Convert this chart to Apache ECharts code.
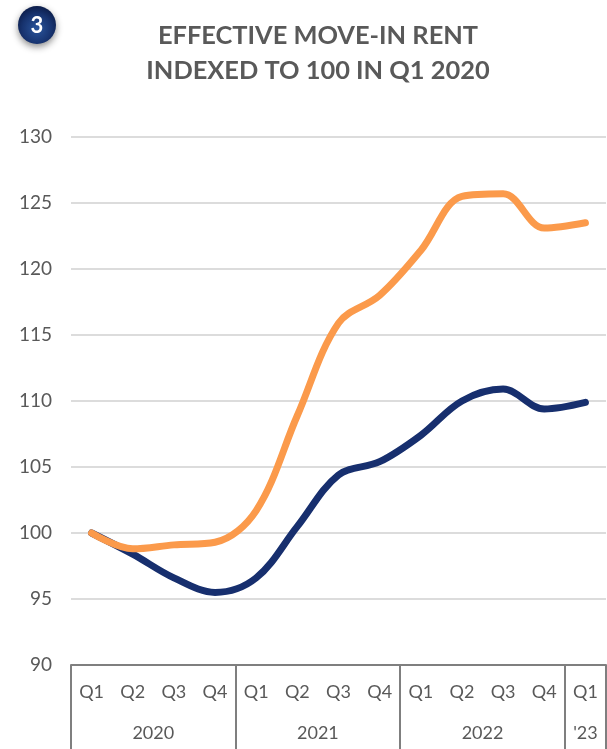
<!DOCTYPE html>
<html><head><meta charset="utf-8">
<style>html,body{margin:0;padding:0;background:#fff}#c{width:607px;height:749px}</style>
<script src="https://cdn.jsdelivr.net/npm/echarts@6/dist/echarts.min.js"></script>
</head><body><div id="c"></div>
<script>
const quarters=['Q1','Q2','Q3','Q4','Q1','Q2','Q3','Q4','Q1','Q2','Q3','Q4','Q1'];
const years=["2020","2021","2022","'23"];
const yearCenters=[2,6,10,12.5];
const yearEdges=[0,4,8,12,13];
const navy=[100,98.4,96.6,95.5,96.6,100.5,104.4,105.4,107.4,110,110.9,109.4,109.9];
const orange=[100,98.8,99.1,99.3,101.7,108.9,115.9,118,121.4,125.5,125.7,123.1,123.5];
const grey='#595959', axisGrey='#7f7f7f', font='Lato';
const chart=echarts.init(document.getElementById('c'),null,{renderer:'canvas'});
chart.setOption({
 animation:false,backgroundColor:'#fff',
 title:{text:'EFFECTIVE MOVE-IN RENT\nINDEXED TO 100 IN Q1 2020',left:313,top:13,textAlign:'center',
  textStyle:{color:grey,fontFamily:font,fontWeight:'bold',fontSize:25.4,lineHeight:35}},
 grid:{left:71,right:1,top:137,bottom:84,containLabel:false},
 xAxis:[
  {type:'category',data:quarters,boundaryGap:true,position:'bottom',
   axisLine:{show:true,lineStyle:{color:axisGrey,width:2}},axisTick:{show:false},
   axisLabel:{interval:0,color:grey,fontFamily:font,fontSize:18,margin:18}},
  {type:'value',min:0,max:13,position:'bottom',splitLine:{show:false},
   axisLine:{show:false},
   axisTick:{show:true,customValues:yearEdges,length:84,lineStyle:{color:axisGrey,width:2}},
   axisLabel:{show:true,customValues:yearCenters,color:grey,fontFamily:font,fontSize:18,margin:59,
    formatter:v=>years[yearCenters.indexOf(v)]}}
 ],
 yAxis:{type:'value',min:90,max:130,interval:5,
  axisLine:{show:false},axisTick:{show:false},
  axisLabel:{color:grey,fontFamily:font,fontSize:19,margin:19},
  splitLine:{lineStyle:{color:'#dcdcdc',width:2}}},
 series:[
  {type:'line',name:'Navy',data:navy,smooth:0.35,showSymbol:false,lineStyle:{color:'#172f6e',width:7,cap:'round',join:'round'},z:3},
  {type:'line',name:'Orange',data:orange,smooth:0.35,showSymbol:false,lineStyle:{color:'#fb9a4b',width:7,cap:'round',join:'round'},z:4}
 ],
 graphic:[
  {type:'circle',shape:{cx:37,cy:25,r:19},z:10,style:{
    fill:{type:'radial',x:0.5,y:0.6,r:0.6,colorStops:[{offset:0,color:'#2a559c'},{offset:0.65,color:'#17336f'},{offset:1,color:'#0c1d4a'}]},
    shadowBlur:7,shadowColor:'rgba(0,0,0,0.45)',shadowOffsetY:3}},
  {type:'text',x:37,y:26,z:11,style:{text:'3',fill:'#fff',font:'bold 22px Lato',textAlign:'center',textVerticalAlign:'middle'}}
 ]
});
</script></body></html>
